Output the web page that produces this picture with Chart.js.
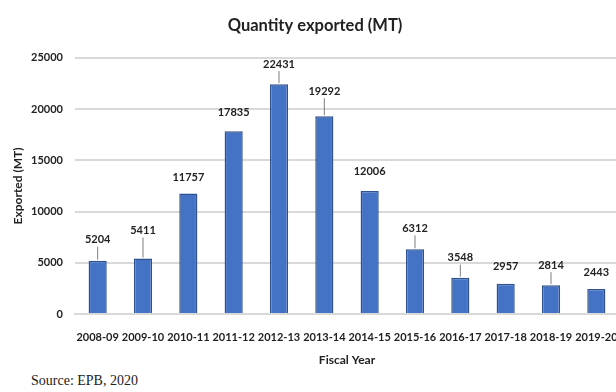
<!DOCTYPE html>
<html>
<head>
<meta charset="utf-8">
<script src="https://cdn.jsdelivr.net/npm/chart.js@4/dist/chart.umd.min.js"></script>
<style>
  html, body { margin: 0; padding: 0; background: #ffffff; overflow: hidden; width: 616px; height: 392px; }
  #wrap { position: absolute; left: 0; top: 0; width: 626px; height: 368px; }
  #source { position: absolute; left: 31px; top: 373px; font-family: "Liberation Serif", "Times New Roman", serif; font-size: 14px; color: #222; white-space: nowrap; }
</style>
</head>
<body>
<div id="wrap"><canvas id="chart" width="626" height="368"></canvas></div>
<div id="source">Source: EPB, 2020</div>
<script>
// Fiscal years and quantity exported (metric tonnes)
const fiscalYears = ['2008-09', '2009-10', '2010-11', '2011-12', '2012-13', '2013-14',
                     '2014-15', '2015-16', '2016-17', '2017-18', '2018-19', '2019-20'];
const quantityExported = [5204, 5411, 11757, 17835, 22431, 19292, 12006, 6312, 3548, 2957, 2814, 2443];
const yTicks = [0, 5000, 10000, 15000, 20000, 25000];

const FONT = 'Lato, "Open Sans", sans-serif';
const INK = '#222222';

// Value labels above each bar, some tied back to the bar with a short leader line
const valueLabels = {
  id: 'valueLabels',
  afterDatasetsDraw(chart, args, opts) {
    const ctx = chart.ctx;
    const meta = chart.getDatasetMeta(0);
    const values = chart.data.datasets[0].data;
    ctx.save();
    ctx.font = 'bold 11px ' + FONT;
    ctx.textAlign = 'center';
    ctx.textBaseline = 'middle';
    meta.data.forEach((bar, i) => {
      const ty = bar.y - opts.lift[i];
      if (opts.leader[i]) {
        ctx.strokeStyle = '#7f7f7f';
        ctx.lineWidth = 1;
        ctx.beginPath();
        ctx.moveTo(bar.x, bar.y - 1);
        ctx.lineTo(bar.x, ty + 7);
        ctx.stroke();
      }
      ctx.fillStyle = INK;
      ctx.fillText(String(values[i]), bar.x, ty);
    });
    ctx.restore();
  }
};

new Chart(document.getElementById('chart'), {
  type: 'bar',
  data: {
    labels: fiscalYears,
    datasets: [{
      label: 'Quantity exported (MT)',
      data: quantityExported,
      backgroundColor: '#4472c4',
      borderColor: '#2f528f',
      borderWidth: 1.5,
      barPercentage: 0.4,
      categoryPercentage: 1.0
    }]
  },
  plugins: [valueLabels],
  options: {
    responsive: false,
    animation: false,
    devicePixelRatio: 1,
    layout: { padding: { left: 11, right: 7, top: 8, bottom: 1 } },
    plugins: {
      legend: { display: false },
      tooltip: { enabled: false },
      title: {
        display: true,
        text: 'Quantity exported (MT)',
        color: INK,
        font: { family: FONT, size: 16.5, weight: 'bold' },
        padding: { top: 8, bottom: 22 }
      },
      valueLabels: {
        lift:   [21, 28, 16, 19, 20, 25, 20, 21, 20, 17, 20, 17],
        leader: [1, 1, 0, 0, 1, 1, 0, 1, 1, 0, 1, 0]
      }
    },
    scales: {
      x: {
        afterFit(scale) {
          scale.height = 53;
          scale.paddingLeft = 0;
          scale.paddingRight = 0;
        },
        grid: { display: false, drawTicks: false },
        border: { display: true, color: '#d9d9d9', width: 2 },
        ticks: {
          color: INK,
          font: { family: FONT, size: 11, weight: 'bold' },
          padding: 17,
          maxRotation: 0,
          minRotation: 0,
          autoSkip: false
        },
        title: {
          display: true,
          text: 'Fiscal Year',
          color: INK,
          font: { family: FONT, size: 12, weight: 'bold' },
          padding: { top: 0, bottom: 0 }
        }
      },
      y: {
        min: 0,
        max: 25000,
        afterBuildTicks(scale) { scale.ticks = yTicks.map(v => ({ value: v })); },
        afterFit(scale) {
          scale.width = 64;
          scale.paddingTop = 0;
          scale.paddingBottom = 0;
        },
        grid: { color: '#d9d9d9', lineWidth: 2, drawTicks: false },
        border: { display: false },
        ticks: {
          color: INK,
          font: { family: FONT, size: 11, weight: 'bold' },
          padding: 12,
          callback: v => String(v)
        },
        title: {
          display: true,
          text: 'Exported (MT)',
          color: INK,
          font: { family: FONT, size: 12, weight: 'bold' },
          padding: { top: 0, bottom: 0 }
        }
      }
    }
  }
});
</script>
</body>
</html>
